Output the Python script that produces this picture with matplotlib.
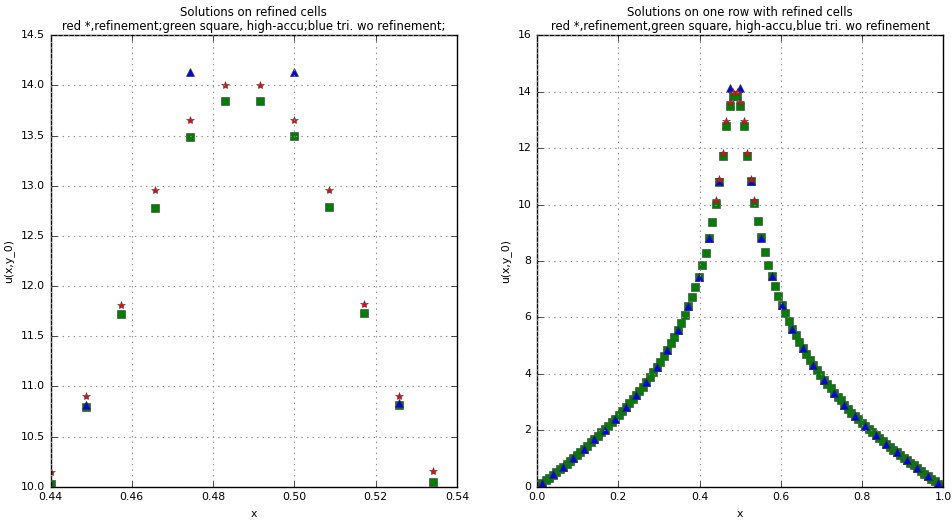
import numpy as np
import matplotlib
matplotlib.use("Agg")
import matplotlib.pyplot as plt

plt.style.use('classic')

# ---- data ----
n_fine = 117
n_coarse = 39

# high-accuracy solution on fine cells (green squares)
green_vals = [
    0.04, 0.13, 0.23, 0.33, 0.43, 0.52, 0.62, 0.72, 0.82, 0.92,
    1.02, 1.13, 1.24, 1.35, 1.46, 1.58, 1.69, 1.81, 1.93, 2.05,
    2.17, 2.29, 2.41, 2.54, 2.68, 2.82, 2.96, 3.10, 3.25, 3.40,
    3.55, 3.71, 3.89, 4.06, 4.24, 4.44, 4.65, 4.86, 5.08, 5.31,
    5.55, 5.82, 6.09, 6.39, 6.71, 7.07, 7.43, 7.85, 8.30, 8.82,
    9.38, 10.03, 10.80, 11.72, 12.78, 13.49, 13.84, 13.84, 13.50, 12.79,
    11.73, 10.82, 10.05, 9.40, 8.84, 8.33, 7.86, 7.48, 7.10, 6.76,
    6.44, 6.15, 5.86, 5.60, 5.37, 5.14, 4.92, 4.72, 4.51, 4.33,
    4.15, 3.97, 3.80, 3.64, 3.49, 3.34, 3.20, 3.06, 2.91, 2.77,
    2.63, 2.50, 2.39, 2.27, 2.15, 2.04, 1.94, 1.83, 1.72, 1.63,
    1.52, 1.42, 1.32, 1.23, 1.13, 1.04, 0.94, 0.85, 0.76, 0.66,
    0.57, 0.47, 0.39, 0.29, 0.20, 0.11, 0.04,
]

# solution without refinement on coarse cells (blue triangles)
blue_vals = [
    0.13, 0.44, 0.72, 1.03, 1.35, 1.70, 2.03, 2.41, 2.82, 3.24,
    3.71, 4.24, 4.86, 5.57, 6.39, 7.43, 8.82, 10.82, 14.13, 14.13,
    10.84, 8.83, 7.48, 6.44, 5.60, 4.92, 4.33, 3.79, 3.32, 2.91,
    2.52, 2.16, 1.84, 1.52, 1.23, 0.96, 0.66, 0.40, 0.13,
]

# solution with refinement on the refined cells (red stars), fine cells 51..62
red_first_cell = 51
red_vals = [10.15, 10.91, 11.81, 12.96, 13.65, 14.00, 14.00, 13.65,
            12.96, 11.82, 10.91, 10.16]

left_title = ("Solutions on refined cells\n"
              "red *,refinement;green square, high-accu;blue tri. wo refinement;")
right_title = ("Solutions on one row with refined cells\n"
               "red *,refinement,green square, high-accu,blue tri. wo refinement")
left_xticks = [0.44, 0.46, 0.48, 0.50, 0.52, 0.54]
left_yticks = [10.0, 10.5, 11.0, 11.5, 12.0, 12.5, 13.0, 13.5, 14.0, 14.5]
right_xticks = [0.0, 0.2, 0.4, 0.6, 0.8, 1.0]
right_yticks = [0, 2, 4, 6, 8, 10, 12, 14, 16]

# ---- derived positions: cell centres ----
x_fine = (np.arange(n_fine) + 0.5) / n_fine
x_coarse = (np.arange(n_coarse) + 0.5) / n_coarse
x_red = x_fine[red_first_cell:red_first_cell + len(red_vals)]

fig = plt.figure(figsize=(9.53, 5.21), dpi=100, facecolor='white')
ax1 = fig.add_axes([0.0530, 0.0655, 0.4265, 0.8670])
ax2 = fig.add_axes([0.5635, 0.0655, 0.4265, 0.8670])

fs = 7.8
for ax in (ax1, ax2):
    ax.plot(x_fine, green_vals, 's', color=(0, 0.5, 0), markersize=5.5,
            markeredgewidth=0.5, markeredgecolor='0.3')
    ax.plot(x_coarse, blue_vals, '^', color='b', markersize=5.5,
            markeredgewidth=0.5, markeredgecolor='0.2')
    ax.plot(x_red, red_vals, '*', color='r', markersize=6,
            markeredgewidth=0.4, markeredgecolor='0.25')
    ax.grid(True, linestyle=':', color='0.55', linewidth=0.8)
    ax.set_xlabel('x', fontsize=fs)
    ax.set_ylabel('u(x,y_0)', fontsize=fs)
    ax.tick_params(labelsize=fs, direction='in', length=4, top=True, right=True)
    for s in ax.spines.values():
        s.set_linewidth(1.0)

ax1.set_xlim(0.44, 0.54)
ax1.set_ylim(10.0, 14.5)
ax1.set_xticks(left_xticks)
ax1.set_yticks(left_yticks)
ax1.set_xticklabels(['%.2f' % v for v in left_xticks])
ax1.set_yticklabels(['%.1f' % v for v in left_yticks])
ax1.set_title(left_title, fontsize=fs + 0.6, linespacing=1.1, pad=3.5)

ax2.set_xlim(0.0, 1.0)
ax2.set_ylim(0, 16)
ax2.set_xticks(right_xticks)
ax2.set_yticks(right_yticks)
ax2.set_xticklabels(['%.1f' % v for v in right_xticks])
ax2.set_yticklabels(['%d' % v for v in right_yticks])
ax2.set_title(right_title, fontsize=fs + 0.6, linespacing=1.1, pad=3.5)

fig.savefig('out.png', dpi=100, facecolor='white')
